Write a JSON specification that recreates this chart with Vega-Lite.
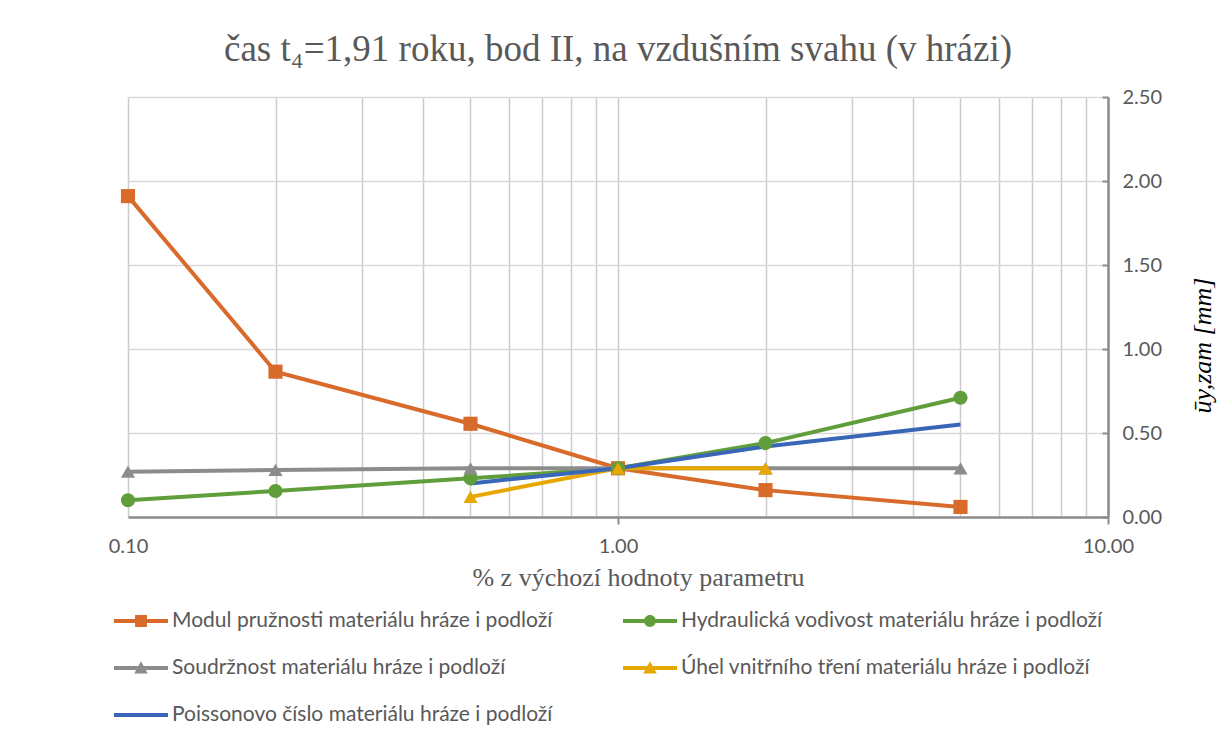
{
  "$schema": "https://vega.github.io/schema/vega-lite/v6.json",
  "width": 980,
  "height": 420,
  "autosize": {"type": "none"},
  "padding": {"left": 128, "top": 97, "right": 121, "bottom": 223},
  "background": "white",
  "config": {
    "view": {"stroke": null},
    "font": "Lato"
  },
  "title": {
    "text": "čas t₄=1,91 roku, bod II, na vzdušním svahu (v hrázi)",
    "font": "Liberation Serif",
    "fontSize": 37,
    "fontWeight": "normal",
    "color": "#595959",
    "offset": 18
  },
  "data": {
    "values": [
      {"s": "Modul pružnosti materiálu hráze i podloží", "x": 0.1, "y": 1.91},
      {"s": "Modul pružnosti materiálu hráze i podloží", "x": 0.2, "y": 0.865},
      {"s": "Modul pružnosti materiálu hráze i podloží", "x": 0.5, "y": 0.555},
      {"s": "Modul pružnosti materiálu hráze i podloží", "x": 1, "y": 0.29},
      {"s": "Modul pružnosti materiálu hráze i podloží", "x": 2, "y": 0.16},
      {"s": "Modul pružnosti materiálu hráze i podloží", "x": 5, "y": 0.06},
      {"s": "Hydraulická vodivost materiálu hráze i podloží", "x": 0.1, "y": 0.1},
      {"s": "Hydraulická vodivost materiálu hráze i podloží", "x": 0.2, "y": 0.155},
      {"s": "Hydraulická vodivost materiálu hráze i podloží", "x": 0.5, "y": 0.23},
      {"s": "Hydraulická vodivost materiálu hráze i podloží", "x": 1, "y": 0.29},
      {"s": "Hydraulická vodivost materiálu hráze i podloží", "x": 2, "y": 0.44},
      {"s": "Hydraulická vodivost materiálu hráze i podloží", "x": 5, "y": 0.71},
      {"s": "Soudržnost materiálu hráze i podloží", "x": 0.1, "y": 0.27},
      {"s": "Soudržnost materiálu hráze i podloží", "x": 0.2, "y": 0.28},
      {"s": "Soudržnost materiálu hráze i podloží", "x": 0.5, "y": 0.29},
      {"s": "Soudržnost materiálu hráze i podloží", "x": 1, "y": 0.29},
      {"s": "Soudržnost materiálu hráze i podloží", "x": 2, "y": 0.29},
      {"s": "Soudržnost materiálu hráze i podloží", "x": 5, "y": 0.29},
      {"s": "Úhel vnitřního tření materiálu hráze i podloží", "x": 0.5, "y": 0.12},
      {"s": "Úhel vnitřního tření materiálu hráze i podloží", "x": 1, "y": 0.29},
      {"s": "Úhel vnitřního tření materiálu hráze i podloží", "x": 2, "y": 0.29},
      {"s": "Poissonovo číslo materiálu hráze i podloží", "x": 0.5, "y": 0.2},
      {"s": "Poissonovo číslo materiálu hráze i podloží", "x": 1, "y": 0.29},
      {"s": "Poissonovo číslo materiálu hráze i podloží", "x": 2, "y": 0.42},
      {"s": "Poissonovo číslo materiálu hráze i podloží", "x": 5, "y": 0.55}
    ]
  },
  "encoding": {
    "x": {
      "field": "x",
      "type": "quantitative",
      "scale": {"type": "log", "domain": [0.1, 10], "nice": false},
      "axis": {
        "values": [0.1, 0.2, 0.3, 0.4, 0.5, 0.6, 0.7, 0.8, 0.9, 1, 2, 3, 4, 5, 6, 7, 8, 9, 10],
        "labelExpr": "(datum.value == 0.1 || datum.value == 1 || datum.value == 10) ? format(datum.value, '.2f') : ''",
        "labelFont": "Lato",
        "labelFontSize": 20,
        "labelColor": "#595959",
        "labelPadding": 12,
        "labelFlush": false,
        "labelOverlap": false,
        "grid": true,
        "gridColor": "#cccccc",
        "gridWidth": 1.5,
        "domainColor": "#8c8c8c",
        "domainWidth": 2.5,
        "tickSize": 7,
        "tickWidth": 2,
        "tickColor": {"condition": {"test": "datum.value == 1 || datum.value == 10", "value": "#8c8c8c"}, "value": "transparent"},
        "title": "% z výchozí hodnoty parametru",
        "titleFont": "Liberation Serif",
        "titleFontSize": 26,
        "titleFontWeight": "normal",
        "titleColor": "#595959",
        "titleX": 510,
        "titlePadding": 8
      }
    },
    "y": {
      "field": "y",
      "type": "quantitative",
      "scale": {"domain": [0, 2.5], "nice": false},
      "axis": {
        "orient": "right",
        "values": [0, 0.5, 1, 1.5, 2, 2.5],
        "format": ".2f",
        "labelFont": "Lato",
        "labelFontSize": 20,
        "labelColor": "#595959",
        "labelPadding": 20,
        "grid": true,
        "gridColor": "#d9d9d9",
        "gridWidth": 1.5,
        "domainColor": "#8c8c8c",
        "domainWidth": 2.5,
        "tickSize": -6,
        "tickWidth": 2,
        "tickColor": "#8c8c8c",
        "title": "ūy,zam  [mm]",
        "titleFont": "Liberation Serif",
        "titleFontStyle": "italic",
        "titleFontSize": 26,
        "titleFontWeight": "normal",
        "titleColor": "#000000",
        "titleAngle": 270,
        "titleY": 248,
        "titlePadding": 54
      }
    },
    "color": {
      "field": "s",
      "type": "nominal",
      "scale": {
        "domain": [
          "Modul pružnosti materiálu hráze i podloží",
          "Hydraulická vodivost materiálu hráze i podloží",
          "Soudržnost materiálu hráze i podloží",
          "Úhel vnitřního tření materiálu hráze i podloží",
          "Poissonovo číslo materiálu hráze i podloží"
        ],
        "range": ["#d86b2b", "#5f9e3b", "#8c8c8c", "#e6a800", "#3a66b8"]
      },
      "legend": {
        "title": null,
        "orient": "none",
        "direction": "horizontal",
        "legendX": -14,
        "legendY": 497,
        "columns": 2,
        "columnPadding": 70,
        "rowPadding": 10,
        "padding": 0,
        "symbolSize": 2916,
        "labelFont": "Lato",
        "labelFontSize": 21,
        "labelColor": "#595959",
        "labelOffset": 4,
        "labelLimit": 600,
        "encode": {
          "symbols": {
            "update": {
              "shape": {"signal": "datum.index == 0 ? 'M-1,-0.075H1V0.075H-1Z M-0.22,-0.22H0.22V0.22H-0.22Z' : datum.index == 1 ? 'M-1,-0.075H1V0.075H-1Z M-0.22,0A0.22,0.22,0,1,1,0.22,0A0.22,0.22,0,1,1,-0.22,0Z' : datum.index == 4 ? 'M-1,-0.075H1V0.075H-1Z' : 'M-1,-0.075H1V0.075H-1Z M0,-0.25L0.25,0.2L-0.25,0.2Z'"},
              "fill": {"scale": "color", "field": "value"},
              "stroke": {"value": "transparent"},
              "strokeWidth": {"value": 0},
              "opacity": {"value": 1}
            }
          }
        }
      }
    }
  },
  "layer": [
    {
      "mark": {"type": "line", "strokeWidth": 4},
      "encoding": {}
    },
    {
      "transform": [{"filter": "datum.s != 'Poissonovo číslo materiálu hráze i podloží'"}],
      "mark": {"type": "point", "filled": true, "opacity": 1, "size": 200},
      "encoding": {
        "shape": {
          "field": "s",
          "type": "nominal",
          "scale": {
            "domain": [
              "Modul pružnosti materiálu hráze i podloží",
              "Hydraulická vodivost materiálu hráze i podloží",
              "Soudržnost materiálu hráze i podloží",
              "Úhel vnitřního tření materiálu hráze i podloží"
            ],
            "range": ["square", "circle", "triangle-up", "triangle-up"]
          },
          "legend": null
        }
      }
    }
  ]
}
